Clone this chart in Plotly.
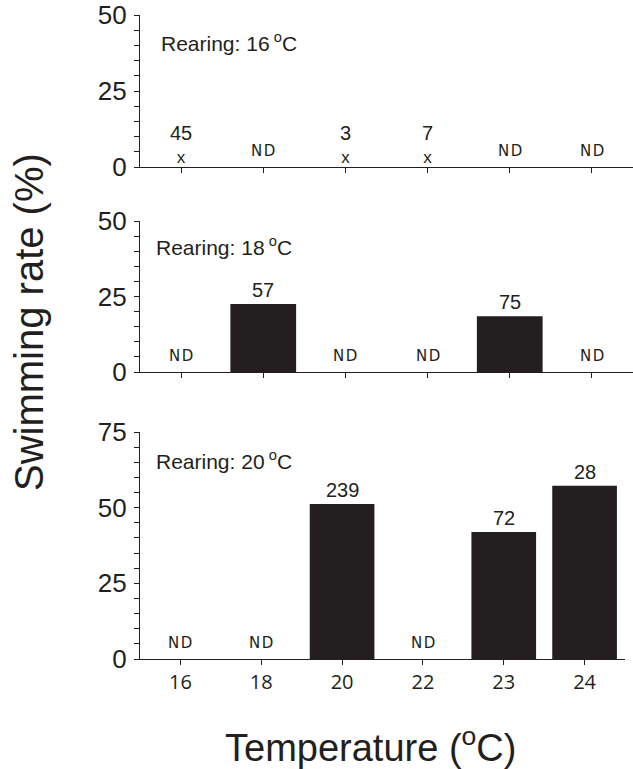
import plotly.graph_objects as go

# ---- data ----
categories = ["16", "18", "20", "22", "23", "24"]

# Rearing 16 °C: swimming rate (x = 0 %), None = not determined
rate_16 = [0, None, 0, 0, None, None]
n_16 = ["45", "ND", "3", "7", "ND", "ND"]

# Rearing 18 °C
rate_18 = [None, 22.5, None, None, 18.5, None]
n_18 = ["ND", "57", "ND", "ND", "75", "ND"]

# Rearing 20 °C
rate_20 = [None, None, 51.2, None, 42.0, 57.2]
n_20 = ["ND", "ND", "239", "ND", "72", "28"]

panel_titles = ["Rearing: 16\u2009<sup>o</sup>C", "Rearing: 18\u2009<sup>o</sup>C", "Rearing: 20\u2009<sup>o</sup>C"]
y_ranges = [[0, 50], [0, 50], [0, 75]]

INK = "#231f20"
W, H = 633, 769
ML, MT, MB = 140, 15, 110
PH = H - MT - MB
PW = W - ML


def yfrac(px):
    return (H - MB - px) / PH


fig = go.Figure()

# top panel: x marks (0 %)
xi_16 = [i for i, v in enumerate(rate_16) if v is not None]
fig.add_trace(go.Scatter(
    x=[categories[i] for i in xi_16],
    y=[rate_16[i] for i in xi_16],
    mode="text", text=["x"] * len(xi_16),
    textposition="top center",
    textfont=dict(family="Liberation Sans, Arial", size=17, color=INK),
    xaxis="x", yaxis="y", showlegend=False, cliponaxis=False, hoverinfo="skip",
))

# bars
fig.add_trace(go.Bar(x=categories, y=rate_18, marker=dict(color=INK, line=dict(width=0)),
                     width=0.8, xaxis="x2", yaxis="y2", showlegend=False))
fig.add_trace(go.Bar(x=categories, y=rate_20, marker=dict(color=INK, line=dict(width=0)),
                     width=0.8, xaxis="x3", yaxis="y3", showlegend=False))

annotations = []
num_font = dict(family="Liberation Sans, Arial", size=20, color=INK)
nd_font = dict(family="DejaVu Sans", size=15, color=INK)
ND_TEXT = "N\u200aD"

for xr, yr, vals, ns, shift in [("x", "y", rate_16, n_16, 21),
                                ("x2", "y2", rate_18, n_18, 1),
                                ("x3", "y3", rate_20, n_20, 1)]:
    for i, (v, n) in enumerate(zip(vals, ns)):
        if n == "ND":
            annotations.append(dict(x=i, y=0, xref=xr, yref=yr, text=ND_TEXT,
                                    showarrow=False, yanchor="bottom", yshift=5, font=nd_font))
        else:
            annotations.append(dict(x=i, y=v, xref=xr, yref=yr, text=n, showarrow=False,
                                    yanchor="bottom", yshift=shift, font=num_font))

# panel titles (paper coordinates)
title_pos = [(159, 42), (154, 246), (154, 460)]
for t, (px, py) in zip(panel_titles, title_pos):
    annotations.append(dict(x=(px - ML) / PW, y=yfrac(py), xref="paper", yref="paper",
                            text=t, showarrow=False, xanchor="left", yanchor="middle",
                            font=dict(family="Liberation Sans, Arial", size=21, color=INK)))

# axis titles
annotations.append(dict(x=(370 - ML) / PW, y=yfrac(745), xref="paper", yref="paper",
                        text="Temperature (<sup>o</sup>C)", showarrow=False,
                        xanchor="center", yanchor="middle",
                        font=dict(family="Liberation Sans, Arial", size=38, color=INK)))
annotations.append(dict(x=(29 - ML) / PW, y=yfrac(322), xref="paper", yref="paper",
                        text="Swimming rate (%)", showarrow=False, textangle=-90,
                        xanchor="center", yanchor="middle",
                        font=dict(family="Liberation Sans, Arial", size=40, color=INK)))

common_x = dict(type="category", categoryorder="array", categoryarray=categories,
                range=[-0.5, 5.5], showline=True, linecolor=INK, linewidth=1.3,
                ticks="outside", ticklen=5, tickwidth=1, tickcolor=INK,
                showgrid=False, zeroline=False, fixedrange=True)
common_y = dict(showline=True, linecolor=INK, linewidth=1.3, ticks="outside", ticklen=5,
                tickwidth=1, tickcolor=INK, dtick=25, showgrid=False, zeroline=False,
                tickfont=dict(family="Liberation Sans, Arial", size=26, color=INK),
                minor=dict(dtick=5, ticks="outside", ticklen=5, tickwidth=1, tickcolor=INK,
                           showgrid=False),
                ticklabelstandoff=2, fixedrange=True)

fig.update_layout(
    width=W, height=H, margin=dict(l=ML, r=0, t=MT, b=MB),
    paper_bgcolor="white", plot_bgcolor="white", bargap=0.2,
    xaxis=dict(common_x, domain=[0, 1], anchor="y", showticklabels=False),
    yaxis=dict(common_y, domain=[yfrac(167), yfrac(15)], anchor="x", range=y_ranges[0]),
    xaxis2=dict(common_x, domain=[0, 1], anchor="y2", showticklabels=False),
    yaxis2=dict(common_y, domain=[yfrac(372), yfrac(221)], anchor="x2", range=y_ranges[1]),
    xaxis3=dict(common_x, domain=[0, 485 / PW], anchor="y3", showticklabels=True,
                tickfont=dict(family="Open Sans", size=20, color=INK)),
    yaxis3=dict(common_y, domain=[yfrac(659), yfrac(432)], anchor="x3", range=y_ranges[2]),
    annotations=annotations,
    font=dict(family="Liberation Sans, Arial", color=INK),
)

fig.write_html("out.html", config={"displayModeBar": False},
               post_script="document.body.style.margin='0';document.body.style.overflow='hidden';")
